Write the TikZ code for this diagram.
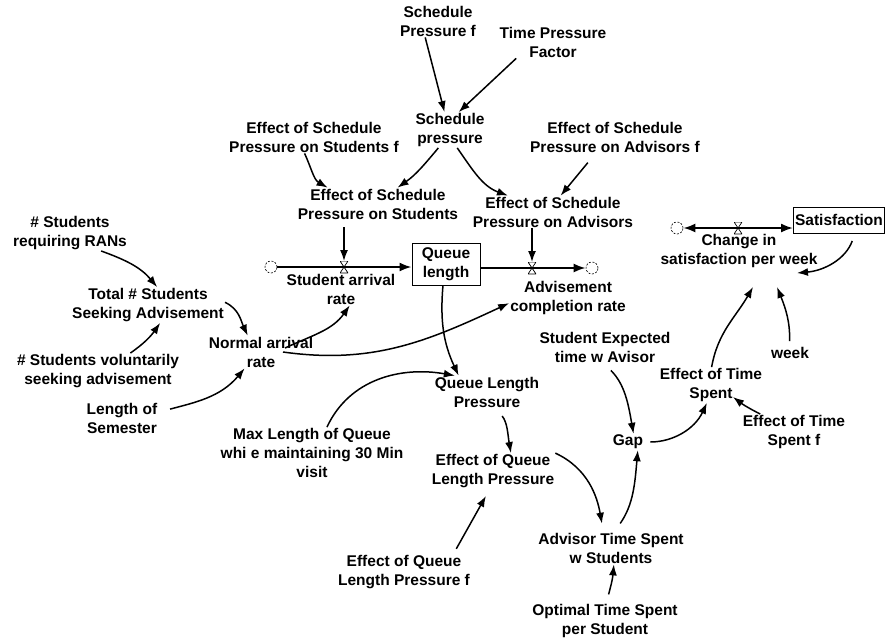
\documentclass[tikz,border=0pt]{standalone}
\usepackage{fontspec}
\setmainfont{Liberation Sans}
\usetikzlibrary{arrows.meta}

\tikzset{
  var/.style={align=center, inner sep=1pt, font=\bfseries\fontsize{15.5}{19}\selectfont},
  level/.style={var, draw, line width=0.8pt, minimum height=42pt},
  sink/.style={circle, draw, dash pattern=on 2pt off 1.5pt, line width=0.6pt, minimum size=12pt, inner sep=0pt},
  valve/.style={minimum width=8pt, minimum height=12pt, inner sep=0pt, outer sep=0pt,
    path picture={\draw[line width=0.7pt] (path picture bounding box.north west) -- (path picture bounding box.north east)
      -- (path picture bounding box.south west) -- (path picture bounding box.south east) -- cycle;}},
  link/.style={->, line width=1.5pt},
  pipe/.style={line width=2.2pt, >={Latex[length=12pt,width=9pt]}}
}

\begin{document}
\begin{tikzpicture}[x=1pt, y=1pt, >={Latex[length=11pt,width=8pt]}]
  \useasboundingbox (0,0) rectangle (886,-640);

  % variables
  \node[var] (spf) at (438,-21) {Schedule\\Pressure f};
  \node[var] (tpf) at (553,-42) {Time Pressure\\Factor};
  \node[var] (sp) at (450,-130) {Schedule\\pressure};
  \node[var] (esssf) at (314,-137) {Effect of Schedule\\Pressure on Students f};
  \node[var] (essaf) at (615,-137) {Effect of Schedule\\Pressure on Advisors f};
  \node[var] (esss) at (378,-204) {Effect of Schedule\\Pressure on Students};
  \node[var] (essa) at (553,-212) {Effect of Schedule\\Pressure on Advisors};
  \node[var] (nsr) at (70,-233) {\# Students\\requiring RANs};
  \node[var] (tss) at (148,-305) {Total \# Students\\Seeking Advisement};
  \node[var] (nsv) at (98,-371) {\# Students voluntarily\\seeking advisement};
  \node[var] (nar) at (261,-352) {Normal arrival\\rate};
  \node[var] (los) at (122,-418) {Length of\\Semester};
  \node[var] (qlp) at (487,-392) {Queue Length\\Pressure};
  \node[var] (mlq) at (312,-453) {Max Length of Queue\\whi e maintaining 30 Min\\visit};
  \node[var] (eqlp) at (493,-471) {Effect of Queue\\Length Pressure};
  \node[var] (eqlpf) at (404,-572) {Effect of Queue\\Length Pressure f};
  \node[var] (atsw) at (611,-548) {Advisor Time Spent\\w Students};
  \node[var] (ots) at (605,-621) {Optimal Time Spent\\per Student};
  \node[var] (sete) at (605,-347) {Student Expected\\time w Avisor};
  \node[var] (gap) at (628,-442) {Gap};
  \node[var] (ets) at (711,-385) {Effect of Time\\Spent};
  \node[var] (etsf) at (794,-432) {Effect of Time\\Spent f};
  \node[var] (week) at (790,-353) {week};

  % stocks and flows
  \node[level, minimum width=68pt] (ql) at (446,-264) {Queue\\length};
  \node[level, minimum width=91pt, minimum height=26pt] (sat) at (839,-220) {Satisfaction};
  \node[sink] (c1) at (271,-267) {};
  \node[sink] (c2) at (592,-268) {};
  \node[sink] (c3) at (677,-228) {};

  \draw[pipe, ->] (c1) -- (c1 -| ql.west);
  \draw[pipe, ->] (ql.east |- c2) -- (c2);
  \draw[pipe, <->] (c3) -- (c3 -| sat.west);

  \node[valve] (v1) at (344,-267) {};
  \node[valve] (v2) at (532,-268) {};
  \node[valve] (v3) at (738,-228) {};

  \node[var] (sar) at (341,-289) {Student arrival\\rate};
  \node[var] (acr) at (568,-298) {Advisement\\completion rate};
  \node[var] (csw) at (739,-251) {Change in\\satisfaction per week};

  % links
  \draw[link] (spf.-128) -- (sp.107);
  \draw[link] (tpf.-156) -- (sp.64);
  \draw[link] (sp.-123) to[out=-130,in=35] (esss.40);
  \draw[link] (sp.-68) to[out=-55,in=160] (essa.160);
  \draw[link] (esssf.-120) to[out=-65,in=150] (esss.162);
  \draw[link, shorten <=12pt] (essaf.-140) -- (essa.65);
  \draw[link, shorten <=7pt] (v1 |- esss.south) -- (v1.north);
  \draw[link] (v2 |- essa.south) -- (v2.north);

  \draw[link] (nsr.-30) to[out=-20,in=130] (tss.63);
  \draw[link] (nsv.29) to[out=35,in=-125] (tss.-56);
  \draw[link] (tss.2) to[out=-25,in=115] (nar.129);
  \draw[link, shorten <=12pt] (los.9) to[out=15,in=-130] (nar.-135);
  \draw[link] ([shift={(24pt,4pt)}]nar.center) to[out=25,in=-125] (sar.-62);
  \draw[link] ([xshift=22pt]nar.center) to[out=-8,in=-155] (acr.-175);

  \draw[link] (ql.-98) to[out=-95,in=115] (qlp.150);
  \draw[link] (mlq.60) to[out=65,in=170] (qlp.153);
  \draw[link, shorten <=10pt] (qlp.-62) to[out=-50,in=100] (eqlp.45);
  \draw[link, shorten <=6pt, shorten >=8pt] (eqlpf.20) -- (eqlp.-100);
  \draw[link, shorten >=8pt] (eqlp.16) to[out=-25,in=100] (atsw.115);
  \draw[link, shorten <=9pt] (ots.86) to[out=75,in=-95] (atsw.-80);
  \draw[link, shorten <=10pt] (atsw.78) to[out=55,in=-95] (gap.-40);
  \draw[link, shorten <=10pt] (sete.-94) to[out=-45,in=100] (gap.56);
  \draw[link, shorten <=6pt] (gap.0) to[out=0,in=-115] (ets.-103);
  \draw[link] (etsf.152) to[bend left=5] ([shift={(22pt,-12pt)}]ets.center);
  \draw[link] (ets.88) to[out=80,in=-120] ([shift={(14pt,-36pt)}]csw.center);
  \draw[link, shorten <=5pt] (week.95) to[out=88,in=-68] ([shift={(38pt,-36pt)}]csw.center);
  \draw[link, shorten <=8pt] ([xshift=16pt]sat.south) to[out=-110,in=5] ([shift={(58pt,-22pt)}]csw.center);
\end{tikzpicture}
\end{document}
